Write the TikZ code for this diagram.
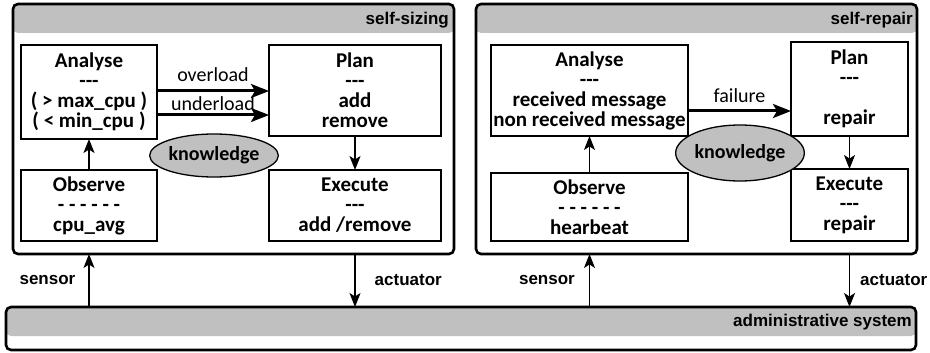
\documentclass[tikz,border=0pt]{standalone}
\usepackage{fontspec}
\setmainfont{Carlito}
\newfontfamily\labelfont{Liberation Sans}
\usetikzlibrary{arrows.meta,shapes.geometric}
\definecolor{headgray}{RGB}{192,192,192}
\tikzset{
	box/.style={draw, line width=1.4pt, inner sep=0pt, outer sep=0pt, align=center, font=\bfseries\fontsize{21}{20}\selectfont},
	knowbubble/.style={ellipse, draw, line width=1.3pt, fill=headgray, inner sep=0pt, outer sep=0pt, font=\bfseries\fontsize{20}{20}\selectfont},
	panel/.style={draw, line width=2.6pt, rounded corners=5pt, inner sep=0pt, outer sep=0pt, path picture={\fill[headgray] (path picture bounding box.north west) rectangle ([yshift=-29pt]path picture bounding box.north east);}},
	flow/.style={line width=3pt, -{Stealth[length=18pt, width=14pt, inset=4pt]}},
	link/.style={line width=1.4pt, -{Stealth[length=14pt, width=11pt, inset=3.5pt]}},
	flowtext/.style={font=\fontsize{20}{20}\selectfont, inner sep=1pt},
	tag/.style={font=\labelfont\bfseries\fontsize{17}{17}\selectfont, inner sep=0pt},
}

\begin{document}
\begin{tikzpicture}[x=1pt, y=-1pt]
			%%%%% FRAME %%%%%
			\useasboundingbox (0,0) rectangle (930,353);
			
			\node[panel, minimum width=441pt, minimum height=250pt] (sizing) at (233.5,129) {};
			\node[panel, minimum width=441pt, minimum height=250pt] (repair) at (696.5,129) {};
			\node[panel, minimum width=910pt, minimum height=43pt] (admin) at (461,328.5) {};
			
			\node[tag, anchor=east] (sizingTitle) at (449,20) {self-sizing};
			\node[tag, anchor=east] (repairTitle) at (913,20) {self-repair};
			\node[tag, anchor=east] (adminTitle) at (912,322) {administrative system};
			
			%%%%% SELF-SIZING %%%%%
			\node[box, minimum width=136pt, minimum height=94pt] (analyseL) at (89,92) {Analyse\\-{}-{}-\\( > max\_cpu )\\( < min\_cpu )};
			\node[box, minimum width=172pt, minimum height=91pt] (planL) at (355,90.5) {Plan\\-{}-{}-\\add\\remove};
			\node[box, minimum width=136pt, minimum height=71pt] (observeL) at (89,205.5) {Observe\\- - - - - -\\cpu\_avg};
			\node[box, minimum width=172pt, minimum height=71pt] (executeL) at (355,205.5) {Execute\\-{}-{}-\\add /remove};
			\node[knowbubble, minimum width=124pt, minimum height=43pt] (knowL) at (214,155.5) {knowledge};
			
			\draw[flow] ([yshift=1pt]analyseL.east) -- ([yshift=-0.5pt]planL.west) node[flowtext, midway, above=7pt] {overload};
			\draw[flow] ([yshift=-23pt]analyseL.east) -- ([yshift=-24.5pt]planL.west) node[flowtext, midway, above=2pt] {underload};
			\draw[link] (observeL) -- (analyseL);
			\draw[link] (planL) -- (executeL);
			
			%%%%% SELF-REPAIR %%%%%
			\node[box, minimum width=197pt, minimum height=91pt] (analyseR) at (589.5,90.5) {Analyse\\-{}-{}-\\received message\\non received message};
			\node[box, minimum width=117pt, minimum height=94pt] (planR) at (849.5,89) {Plan\\-{}-{}-\\\mbox{}\\repair};
			\node[box, minimum width=197pt, minimum height=68pt] (observeR) at (589.5,207) {Observe\\- - - - - -\\hearbeat};
			\node[box, minimum width=117pt, minimum height=72pt] (executeR) at (849.5,205) {Execute\\-{}-{}-\\repair};
			\node[knowbubble, minimum width=124pt, minimum height=56pt] (knowR) at (740,153) {knowledge};
			
			\draw[flow] ([yshift=-20.5pt]analyseR.east) -- ([yshift=-22pt]planR.west) node[flowtext, midway, above=6pt] {failure};
			\draw[link] (observeR) -- (analyseR);
			\draw[link] (planR) -- (executeR);
			
			%%%%% SENSORS / ACTUATORS %%%%%
			\draw[link] (admin.north -| observeL) -- (sizing.south -| observeL) node[tag, midway, left=13pt] {sensor};
			\draw[link] (sizing.south -| planL) -- (admin.north -| planL) node[tag, midway, right=19pt] {actuator};
			\draw[link] (admin.north -| observeR) -- (repair.south -| observeR) node[tag, midway, left=14pt] {sensor};
			\draw[link] (repair.south -| planR) -- (admin.north -| planR) node[tag, midway, right=10pt] {actuator};
			
			%%%%% DONE %%%%%
\end{tikzpicture}
\end{document}
